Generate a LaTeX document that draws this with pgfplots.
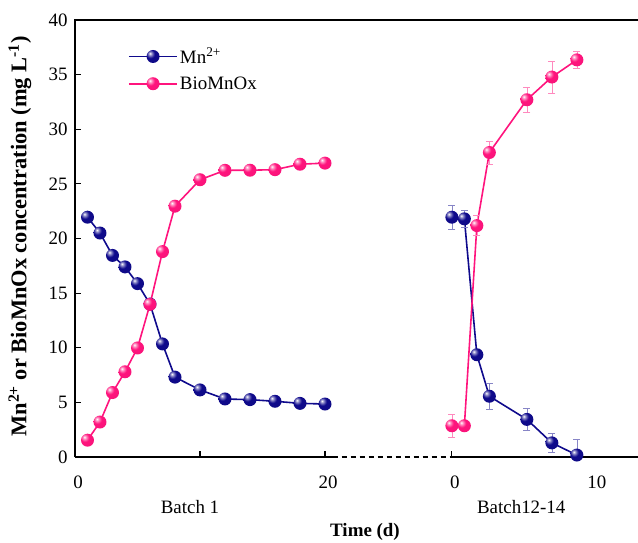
\documentclass[border=0pt]{standalone}
\usepackage{pgfplots}
\pgfplotsset{compat=1.18}
\usepackage{fontspec}
\setmainfont{Liberation Serif}
\definecolor{mnblue}{RGB}{15,10,140}
\definecolor{biopink}{RGB}{255,20,125}
\newcommand{\fs}{\fontsize{19}{22}\selectfont}
\pgfdeclareradialshading{bluesphere}{\pgfpoint{-12bp}{12bp}}{color(0bp)=(white); color(6bp)=(mnblue!45); color(16bp)=(mnblue); color(50bp)=(mnblue!92!black); color(100bp)=(mnblue!92!black)}
\pgfdeclareradialshading{pinksphere}{\pgfpoint{-12bp}{12bp}}{color(0bp)=(white); color(6bp)=(biopink!45); color(16bp)=(biopink); color(50bp)=(biopink!95!black); color(100bp)=(biopink!95!black)}
\pgfdeclareplotmark{bluesph}{\pgfpathcircle{\pgfpointorigin}{\pgfplotmarksize}\pgfshadepath{bluesphere}{0}\pgfusepath{discard}}
\pgfdeclareplotmark{pinksph}{\pgfpathcircle{\pgfpointorigin}{\pgfplotmarksize}\pgfshadepath{pinksphere}{0}\pgfusepath{discard}}
\pgfplotstableread{
x y ep em
30.15 21.95 1.07 1.07
31.15 21.80 0.80 0.80
32.15 9.36 0 0
33.15 5.56 1.16 1.16
36.15 3.44 1.00 1.00
38.15 1.29 0.86 0.86
40.15 0.18 1.40 0.18
}\mnbatchtwo
\pgfplotstableread{
x y ep em
30.15 2.86 1.08 1.08
31.15 2.86 0 0
32.15 21.18 0.90 0.90
33.15 27.87 1.05 1.05
36.15 32.70 1.18 1.18
38.15 34.78 1.47 1.47
40.15 36.35 0.74 0.74
}\biobatchtwo
\begin{document}
\begin{tikzpicture}
\begin{axis}[name=ax, scale only axis, width=563bp, height=437bp,
 xmin=0, xmax=45.04, ymin=0, ymax=40,
 axis lines*=left, axis line style={draw=none},
 xtick={0,10,20,30.15}, xticklabels={0,,20,0},
 extra x ticks={41.5}, extra x tick labels={10}, extra x tick style={major tick length=0pt},
 ytick={0,5,...,40},
 tick align=inside, major tick length=6bp, tick style={black, line width=1.2pt},
 tick label style={font=\fs},
 /pgf/number format/assume math mode=true,
 xticklabel style={yshift=-15bp, xshift=3bp},
 yticklabel style={xshift=-4bp},
 clip=false,
 legend style={draw=none, fill=none, at={(axis cs:4.0,37.8)}, anchor=north west, font=\fs, row sep=8bp},
 legend cell align=left,
 legend image code/.code={\draw[mark repeat=2,mark phase=2,#1,line width=1.6pt] plot coordinates {(0cm,0cm) (0.85cm,0cm) (1.7cm,0cm)};},
]
\draw[line width=1.5pt] (rel axis cs:0,0) -- (rel axis cs:0,1) -- (rel axis cs:1,1);
\draw[line width=1.5pt] (axis cs:0,0) -- (axis cs:20.6,0);
\draw[line width=1.5pt, dash pattern=on 5bp off 4bp] (axis cs:20.6,0) -- (axis cs:30.15,0);
\draw[line width=1.5pt] (axis cs:30.15,0) -- (axis cs:45.04,0);

\addplot[mnblue, line width=1.6pt, mark=bluesph, mark size=6.5bp] coordinates {
(1,21.95) (2,20.5) (3,18.45) (4,17.4) (5,15.87) (6,14.0) (7,10.35) (8,7.31) (10,6.14) (12,5.31) (14,5.25) (16,5.1) (18,4.91) (20,4.85)};
\addlegendentry{Mn\textsuperscript{2+}}
\addplot[biopink, line width=1.6pt, mark=pinksph, mark size=6.5bp] coordinates {
(1,1.54) (2,3.2) (3,5.9) (4,7.8) (5,9.98) (6,13.97) (7,18.8) (8,22.96) (10,25.38) (12,26.24) (14,26.25) (16,26.3) (18,26.8) (20,26.9)};
\addlegendentry{BioMnOx}

\addplot[mnblue, line width=1.6pt, mark=bluesph, mark size=6.5bp, forget plot,
 error bars/.cd, y dir=both, y explicit,
 error bar style={mnblue!50, line width=0.6pt},
 error mark options={rotate=90, mnblue!50, mark size=3.5bp, line width=0.6pt}]
 table[x=x, y=y, y error plus=ep, y error minus=em] {\mnbatchtwo};
\addplot[biopink, line width=1.6pt, mark=pinksph, mark size=6.5bp, forget plot,
 error bars/.cd, y dir=both, y explicit,
 error bar style={biopink!50, line width=0.6pt},
 error mark options={rotate=90, biopink!50, mark size=3.5bp, line width=0.6pt}]
 table[x=x, y=y, y error plus=ep, y error minus=em] {\biobatchtwo};

\node[font=\fs, yshift=-50bp] at (axis cs:9.2,0) {Batch 1};
\node[font=\fs, yshift=-50bp] at (axis cs:35.7,0) {Batch12-14};
\node[font=\fs\bfseries, yshift=-75bp] at (axis cs:23.2,0) {Time (d)};
\path (rel axis cs:0,0.5) ++(-55bp,2bp) node[rotate=90, font=\fontsize{22.5}{26}\selectfont\bfseries] {Mn\textsuperscript{2+} or BioMnOx concentration (mg L\textsuperscript{-1})};
\end{axis}
\pgfresetboundingbox
\path (ax.south west) ++(-75bp,-86bp) rectangle ([yshift=20bp]ax.north east);
\end{tikzpicture}
\end{document}
